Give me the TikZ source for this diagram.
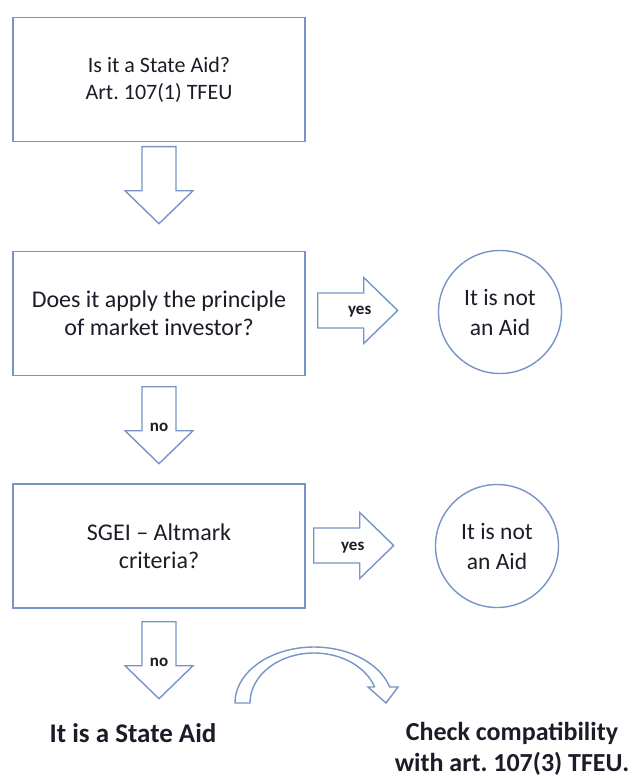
\documentclass[tikz,border=0pt]{standalone}
\usepackage{fontspec}
\setmainfont{Carlito}
\usetikzlibrary{calc}
\definecolor{edge}{RGB}{118,148,198}
\definecolor{ink}{RGB}{28,28,40}
\frenchspacing
\begin{document}
\begin{tikzpicture}[x=1pt,y=-1pt,
  qbox/.style={draw=edge,line width=1.4pt,minimum width=292pt,minimum height=124pt,
    align=center,font=\fontsize{24}{28}\selectfont,text=ink},
  endcircle/.style={draw=edge,line width=1.4pt,circle,minimum size=123pt,inner sep=0pt,
    align=center,font=\fontsize{23.5}{30}\selectfont,text=ink},
  blockarrow/.style={draw=edge,line width=1.4pt,line join=miter,fill=white},
  tag/.style={font=\fontsize{17}{20}\selectfont\bfseries,text=ink,inner sep=0pt},
  result/.style={font=\fontsize{27}{32}\selectfont\bfseries,text=ink,align=center}]
\useasboundingbox (0,0) rectangle (640,778);

% question boxes
\node[qbox,font=\fontsize{22}{27}\selectfont] (q1) at (159,79.5) {Is it a State Aid?\\Art. 107(1) TFEU};
\node[qbox] (q2) at (159,313.5) {Does it apply the principle\\of market investor?};
\node[qbox] (q3) at (159,546) {SGEI -- Altmark\\criteria?};

% outcome circles
\node[endcircle] (n1) at (500,312) {It is not\\an Aid};
\node[endcircle] (n2) at (497,546) {It is not\\an Aid};

% final results
\node[result] (aid) at (133,733) {It is a State Aid};
\node[result,font=\fontsize{26}{31}\selectfont\bfseries] (check) at (512,749) {Check compatibility\\with art. 107(3) TFEU.};

% downward block arrows
\coordinate (d1) at ($(q1.south)+(0,4.5)$);
\coordinate (d2) at ($(q2.south)+(0,10.5)$);
\coordinate (d3) at ($(q3.south)+(0,13)$);
\foreach \p in {d1,d2,d3}
  \draw[blockarrow] (\p) ++(-17,0) -- ++(34,0) -- ++(0,44) -- ++(17,0)
    -- ++(-34,33) -- ++(-34,-33) -- ++(17,0) -- cycle;
\node[tag] (no1) at ($(d2)+(0,41)$) {no};
\node[tag] (no2) at ($(d3)+(0,41)$) {no};

% rightward block arrows
\coordinate (r1) at ($(q2.east)+(12,-3)$);
\coordinate (r2) at ($(q3.east)+(8,-0.5)$);
\foreach \p in {r1,r2}
  \draw[blockarrow] (\p) ++(0,-17.5) -- ++(46,0) -- ++(0,-15.5) -- ++(34,33)
    -- ++(-34,33) -- ++(0,-15.5) -- ++(-46,0) -- cycle;
\node[tag] (yes1) at ($(r1)+(42,1)$) {yes};
\node[tag] (yes2) at ($(r2)+(39,2.5)$) {yes};

% curved arrow between the two results
\coordinate (arcc) at (314,703);
\draw[blockarrow]
  plot[domain=180:343.4,samples=50] ({314+79*cos(\x)},{703+56*sin(\x)})
  -- (398,687) -- (386,703) -- (368,687) -- (375,687)
  -- plot[domain=341.3:180,samples=50] ({314+64*cos(\x)},{703+50*sin(\x)})
  -- cycle;
\end{tikzpicture}
\end{document}
